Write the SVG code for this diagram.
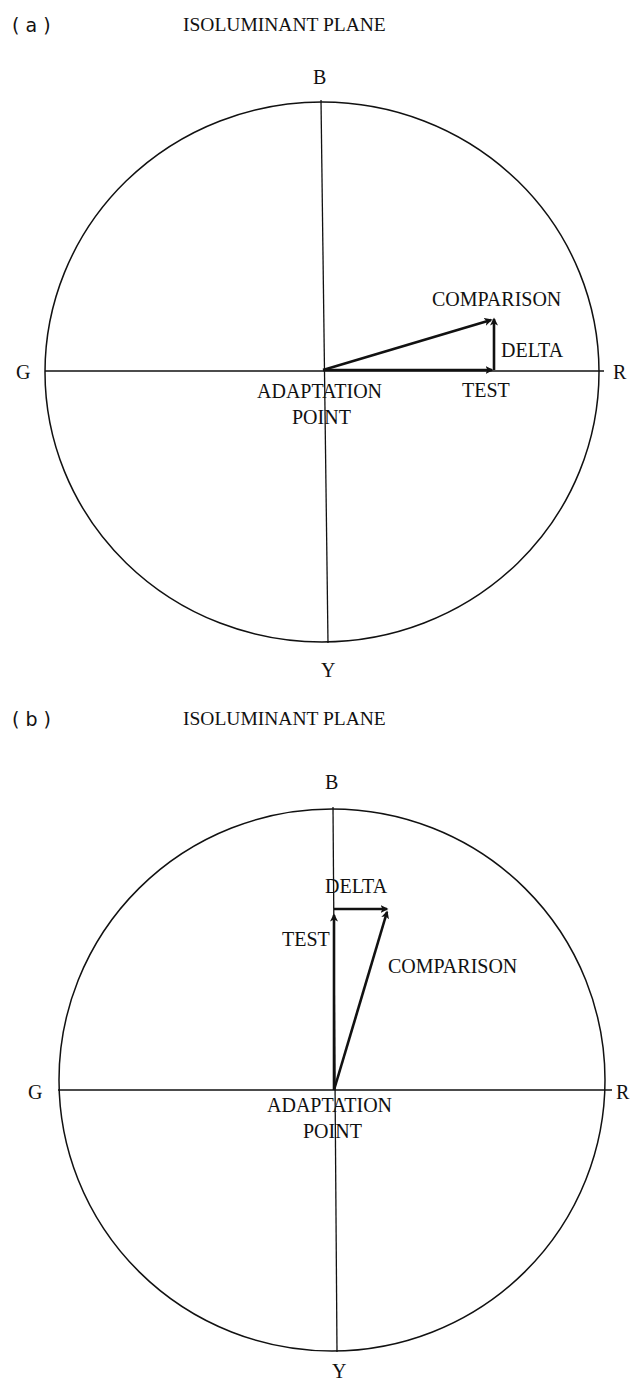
<svg xmlns="http://www.w3.org/2000/svg" width="631" height="1381" viewBox="0 0 631 1381">
<style>
.t{font-family:"Liberation Serif","Times New Roman",serif;font-size:20px;fill:#111}
.h{font-family:"Liberation Serif","Times New Roman",serif;font-size:19.5px;fill:#111}
.p{font-family:"DejaVu Sans","Liberation Sans",sans-serif;font-size:19px;fill:#111}
.c{fill:none;stroke:#111;stroke-width:1.5}
.ax{fill:none;stroke:#111;stroke-width:1.3}
.ar{fill:none;stroke:#111;stroke-width:2.6;marker-end:url(#ah)}
</style>
<defs>
<marker id="ah" markerWidth="9" markerHeight="9" refX="6.5" refY="4.5" orient="auto" markerUnits="userSpaceOnUse">
<path d="M0,0.5 L8,4.5 L0,8.5 L2,4.5 Z" fill="#111"/>
</marker>
</defs>
<rect width="631" height="1381" fill="#fff"/>

<g id="panel-a">
<text class="p" x="12" y="32">( a )</text>
<text class="h" x="183" y="31">ISOLUMINANT PLANE</text>
<g id="a-circle"><ellipse class="c" cx="322" cy="372" rx="277" ry="270"/></g>
<g id="a-axes">
<line class="ax" x1="45" y1="371" x2="604" y2="371"/>
<line class="ax" x1="321" y1="100" x2="328" y2="643"/>
</g>
<g id="a-labels">
<text class="t" x="313" y="84">B</text>
<text class="t" x="321" y="677">Y</text>
<text class="t" x="16" y="379">G</text>
<text class="t" x="613" y="379">R</text>
</g>
<g id="a-connectors">
<line class="ar" x1="323" y1="370" x2="492" y2="370"/>
<line class="ar" x1="494" y1="370" x2="494" y2="319"/>
<line class="ar" x1="323" y1="370" x2="491" y2="320"/>
</g>
<g id="a-text">
<text class="t" x="432" y="306">COMPARISON</text>
<text class="t" x="501" y="357">DELTA</text>
<text class="t" x="462" y="397">TEST</text>
<text class="t" x="257" y="398">ADAPTATION</text>
<text class="t" x="292" y="424">POINT</text>
</g>
</g>

<g id="panel-b">
<text class="p" x="12" y="726">( b )</text>
<text class="h" x="183" y="725">ISOLUMINANT PLANE</text>
<g id="b-circle"><ellipse class="c" cx="332" cy="1080" rx="273" ry="271"/></g>
<g id="b-axes">
<line class="ax" x1="58" y1="1090" x2="612" y2="1090"/>
<line class="ax" x1="333" y1="807" x2="337" y2="1352"/>
</g>
<g id="b-labels">
<text class="t" x="325" y="789">B</text>
<text class="t" x="332" y="1378">Y</text>
<text class="t" x="28" y="1099">G</text>
<text class="t" x="616" y="1099">R</text>
</g>
<g id="b-connectors">
<line class="ar" x1="334" y1="1090" x2="334" y2="915"/>
<line class="ar" x1="334" y1="909" x2="387" y2="909"/>
<line class="ar" x1="334" y1="1090" x2="387" y2="912"/>
</g>
<g id="b-text">
<text class="t" x="325" y="893">DELTA</text>
<text class="t" x="282" y="946">TEST</text>
<text class="t" x="388" y="973">COMPARISON</text>
<text class="t" x="267" y="1112">ADAPTATION</text>
<text class="t" x="303" y="1138">POINT</text>
</g>
</g>
</svg>
